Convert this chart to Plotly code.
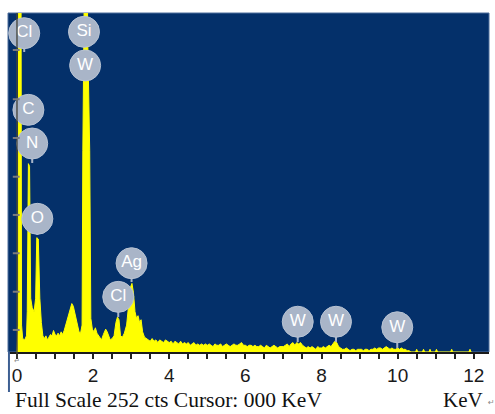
import plotly.graph_objects as go

# ---------------- data ----------------
energy_kev = [
    0.00, 0.03, 0.05, 0.10, 0.12, 0.15, 0.20, 0.25, 0.27, 0.30, 0.33, 0.36,
    0.40, 0.45, 0.49, 0.52, 0.56, 0.60, 0.64, 0.68, 0.72, 0.76, 0.80, 0.84,
    0.88, 0.92, 0.96, 1.00, 1.04, 1.08, 1.12, 1.16, 1.20, 1.24, 1.28, 1.32,
    1.38, 1.44, 1.48, 1.53, 1.58, 1.63, 1.67, 1.71, 1.73, 1.75, 1.78, 1.81,
    1.86, 1.91, 1.94, 1.98, 2.02, 2.06, 2.10, 2.14, 2.18, 2.22, 2.27, 2.33,
    2.37, 2.41, 2.45, 2.50, 2.55, 2.60, 2.64, 2.68, 2.72, 2.77, 2.82, 2.88,
    2.93, 2.98, 3.02, 3.06, 3.10, 3.14, 3.18, 3.22, 3.26, 3.30, 3.35,
    3.40, 3.45, 3.50, 3.55, 3.60, 3.65, 3.70, 3.75, 3.80, 3.85, 3.90, 3.95,
    4.00, 4.05, 4.10, 4.15, 4.20, 4.25, 4.30, 4.35, 4.40, 4.45,
    4.50, 4.55, 4.60, 4.65, 4.70, 4.75, 4.80, 4.85, 4.90, 4.95,
    5.00, 5.05, 5.10, 5.15, 5.20, 5.25, 5.30, 5.35, 5.40, 5.45,
    5.50, 5.55, 5.60, 5.65, 5.70, 5.75, 5.80, 5.85, 5.90, 5.95,
    6.00, 6.05, 6.10, 6.15, 6.20, 6.25, 6.30, 6.35, 6.40, 6.45,
    6.50, 6.55, 6.60, 6.65, 6.70, 6.75, 6.80, 6.85, 6.90, 6.95,
    7.00, 7.05, 7.10, 7.15, 7.20, 7.25, 7.30, 7.35, 7.40, 7.45,
    7.50, 7.55, 7.60, 7.65, 7.70, 7.75, 7.80, 7.85, 7.90, 7.95,
    8.00, 8.05, 8.10, 8.15, 8.20, 8.25, 8.30, 8.35, 8.40, 8.45,
    8.50, 8.55, 8.60, 8.65, 8.70, 8.75, 8.80, 8.85, 8.90, 8.95,
    9.00, 9.05, 9.10, 9.15, 9.20, 9.25, 9.30, 9.35, 9.40, 9.45,
    9.50, 9.55, 9.60, 9.65, 9.70, 9.75, 9.80, 9.85, 9.90, 9.95,
    10.00, 10.05, 10.10, 10.15, 10.20, 10.25, 10.30, 10.35,
    10.47, 10.50, 10.53, 10.65, 10.68, 10.71, 10.82, 10.85, 10.88,
    10.99, 11.02, 11.05, 11.39, 11.42, 11.45, 11.87, 11.90, 11.93,
]
counts = [
    0, 20, 400, 400, 20, 10, 9, 12, 30, 140, 138, 40,
    33, 30, 40, 85, 84, 40, 22, 12, 10, 12, 9, 11,
    13, 12, 16, 13, 12, 14, 12, 15, 13, 16, 20, 24,
    30, 36, 34, 27, 22, 15, 14, 20, 150, 230, 400, 400,
    230, 150, 25, 17, 15, 18, 14, 12, 10, 9, 13, 17,
    15, 11, 9, 10, 12, 22, 26, 24, 12, 11, 14, 20,
    35, 48, 51, 44, 30, 25, 27, 22, 24, 15, 11,
    10, 9, 8, 10, 8, 9, 7, 9, 8, 7, 9, 8,
    7, 8, 6, 8, 7, 6, 8, 6, 7, 6,
    7, 5, 6, 7, 5, 6, 5, 6, 5, 6,
    5, 6, 5, 4, 6, 5, 5, 6, 4, 5,
    6, 5, 4, 5, 6, 5, 5, 6, 7, 5,
    5, 4, 5, 5, 4, 5, 4, 4, 5, 4,
    3, 5, 4, 3, 4, 5, 4, 3, 4, 4,
    4, 5, 6, 4, 6, 7, 5, 7, 6, 7,
    5, 4, 3, 4, 3, 4, 3, 2, 4, 3,
    3, 4, 3, 4, 5, 4, 6, 8, 7, 4,
    3, 2, 2, 3, 2, 1, 2, 2, 1, 2,
    2, 2, 1, 2, 2, 1, 2, 2, 3, 2,
    3, 3, 2, 3, 4, 3, 2, 3, 2, 2,
    3, 2, 3, 2, 2, 1, 1, 0,
    0, 2, 0, 0, 2, 0, 0, 2, 0,
    0, 2, 0, 0, 2, 0, 0, 2, 0,
]

full_scale_cts = 252
x_tick_values = [0, 0.5, 1, 1.5, 2, 2.5, 3, 3.5, 4, 4.5, 5, 5.5, 6, 6.5,
                 7, 7.5, 8, 8.5, 9, 9.5, 10, 10.5, 11, 11.5, 12]
x_tick_labels = [str(int(v)) if (v % 2 == 0) else "" for v in x_tick_values]
y_tick_counts = [16.4, 44.8, 73.4, 101.9, 130.3, 159.1, 187.9, 224.5]

label_names = ["Cl", "C", "N", "O", "Si", "W", "Cl", "Ag", "W", "W", "W"]
label_energy = [0.19, 0.30, 0.40, 0.535, 1.76, 1.79, 2.66, 3.01, 7.375, 8.38, 9.99]
label_counts = [237, 180, 155, 99, 238, 213, 41, 66, 22.5, 22.5, 18.4]
stem_end_counts = [223, None, 140.5, 87, None, None, 26, 52, 7.4, 7.4, 3]

# ---------------- figure ----------------
BUBBLE = "#A9B5C8"
fig = go.Figure()

fig.add_trace(go.Scatter(
    x=energy_kev, y=counts, mode="lines",
    line=dict(color="#FFFF00", width=1),
    fill="tozeroy", fillcolor="#FFFF00",
    hoverinfo="skip",
))

stem_x, stem_y = [], []
for e, c, s in zip(label_energy, label_counts, stem_end_counts):
    if s is None:
        continue
    stem_x += [e, e, None]
    stem_y += [c, s, None]
fig.add_trace(go.Scatter(
    x=stem_x, y=stem_y, mode="lines",
    line=dict(color=BUBBLE, width=2), hoverinfo="skip",
))

fig.add_trace(go.Scatter(
    x=label_energy, y=label_counts, mode="markers+text",
    text=label_names, textposition="middle center",
    textfont=dict(family="Liberation Sans, Arial", size=17, color="white"),
    marker=dict(size=31, color=BUBBLE, line=dict(color="#B8C3D3", width=1)),
    cliponaxis=False, hoverinfo="skip",
))

shapes = []
# cursor line at 0 keV
shapes.append(dict(type="line", xref="x", yref="paper", x0=0, x1=0, y0=-0.02, y1=1,
                   line=dict(color="rgba(70,70,60,0.9)", width=1.5), layer="above"))
# y-axis tick marks drawn on the cursor
for v in y_tick_counts:
    shapes.append(dict(type="line", xref="x", yref="y", x0=-0.11, x1=0.07, y0=v, y1=v,
                       line=dict(color="#7C7C7C", width=2), layer="above"))
# left border extending below the plot
shapes.append(dict(type="line", xref="paper", yref="paper", x0=0.002, x1=0.002,
                   y0=0, y1=-0.118, line=dict(color="#3D5F92", width=2)))
# thin lighter frame around the plot area
shapes.append(dict(type="rect", xref="paper", yref="paper", x0=0, x1=1, y0=0, y1=1,
                   line=dict(color="#4F6F9C", width=1), layer="below"))

annotations = [
    dict(text="Full Scale 252 cts Cursor: 000 KeV", xref="paper", yref="paper",
         x=0.0104, y=-0.143, xanchor="left", yanchor="middle", showarrow=False,
         font=dict(family="Liberation Serif, Times New Roman", size=21.5, color="#111")),
    dict(text="KeV", xref="paper", yref="paper", x=0.992, y=-0.143,
         xanchor="right", yanchor="middle", showarrow=False,
         font=dict(family="Liberation Serif, Times New Roman", size=21, color="#111")),
    dict(text="↵", xref="paper", yref="paper", x=0.994, y=-0.150,
         xanchor="left", yanchor="middle", showarrow=False,
         font=dict(family="DejaVu Sans", size=8, color="#888")),
    dict(text="↵", xref="x", yref="paper", x=0.0, y=-0.027,
         xanchor="center", yanchor="middle", showarrow=False,
         font=dict(family="DejaVu Sans", size=7, color="#888")),
]

fig.update_layout(
    width=495, height=414,
    margin=dict(l=8, r=6, t=13, b=62, pad=0),
    plot_bgcolor="#04306A", paper_bgcolor="white",
    showlegend=False,
    shapes=shapes, annotations=annotations,
    xaxis=dict(
        range=[-0.236, 12.40], tickvals=x_tick_values, ticktext=x_tick_labels,
        ticks="outside", ticklen=5, tickwidth=1.5, tickcolor="#222",
        showline=True, linecolor="#1a1a1a", linewidth=1.5,
        showgrid=False, zeroline=False,
        tickfont=dict(family="Liberation Sans, Arial", size=19, color="#1a1a1a"),
        fixedrange=True,
    ),
    yaxis=dict(range=[0, full_scale_cts], showticklabels=False, showgrid=False,
               zeroline=False, showline=False, ticks="", fixedrange=True),
)

fig.write_html("out.html", config={"displayModeBar": False},
               post_script="document.body.style.margin='0px';document.body.style.overflow='hidden';")
